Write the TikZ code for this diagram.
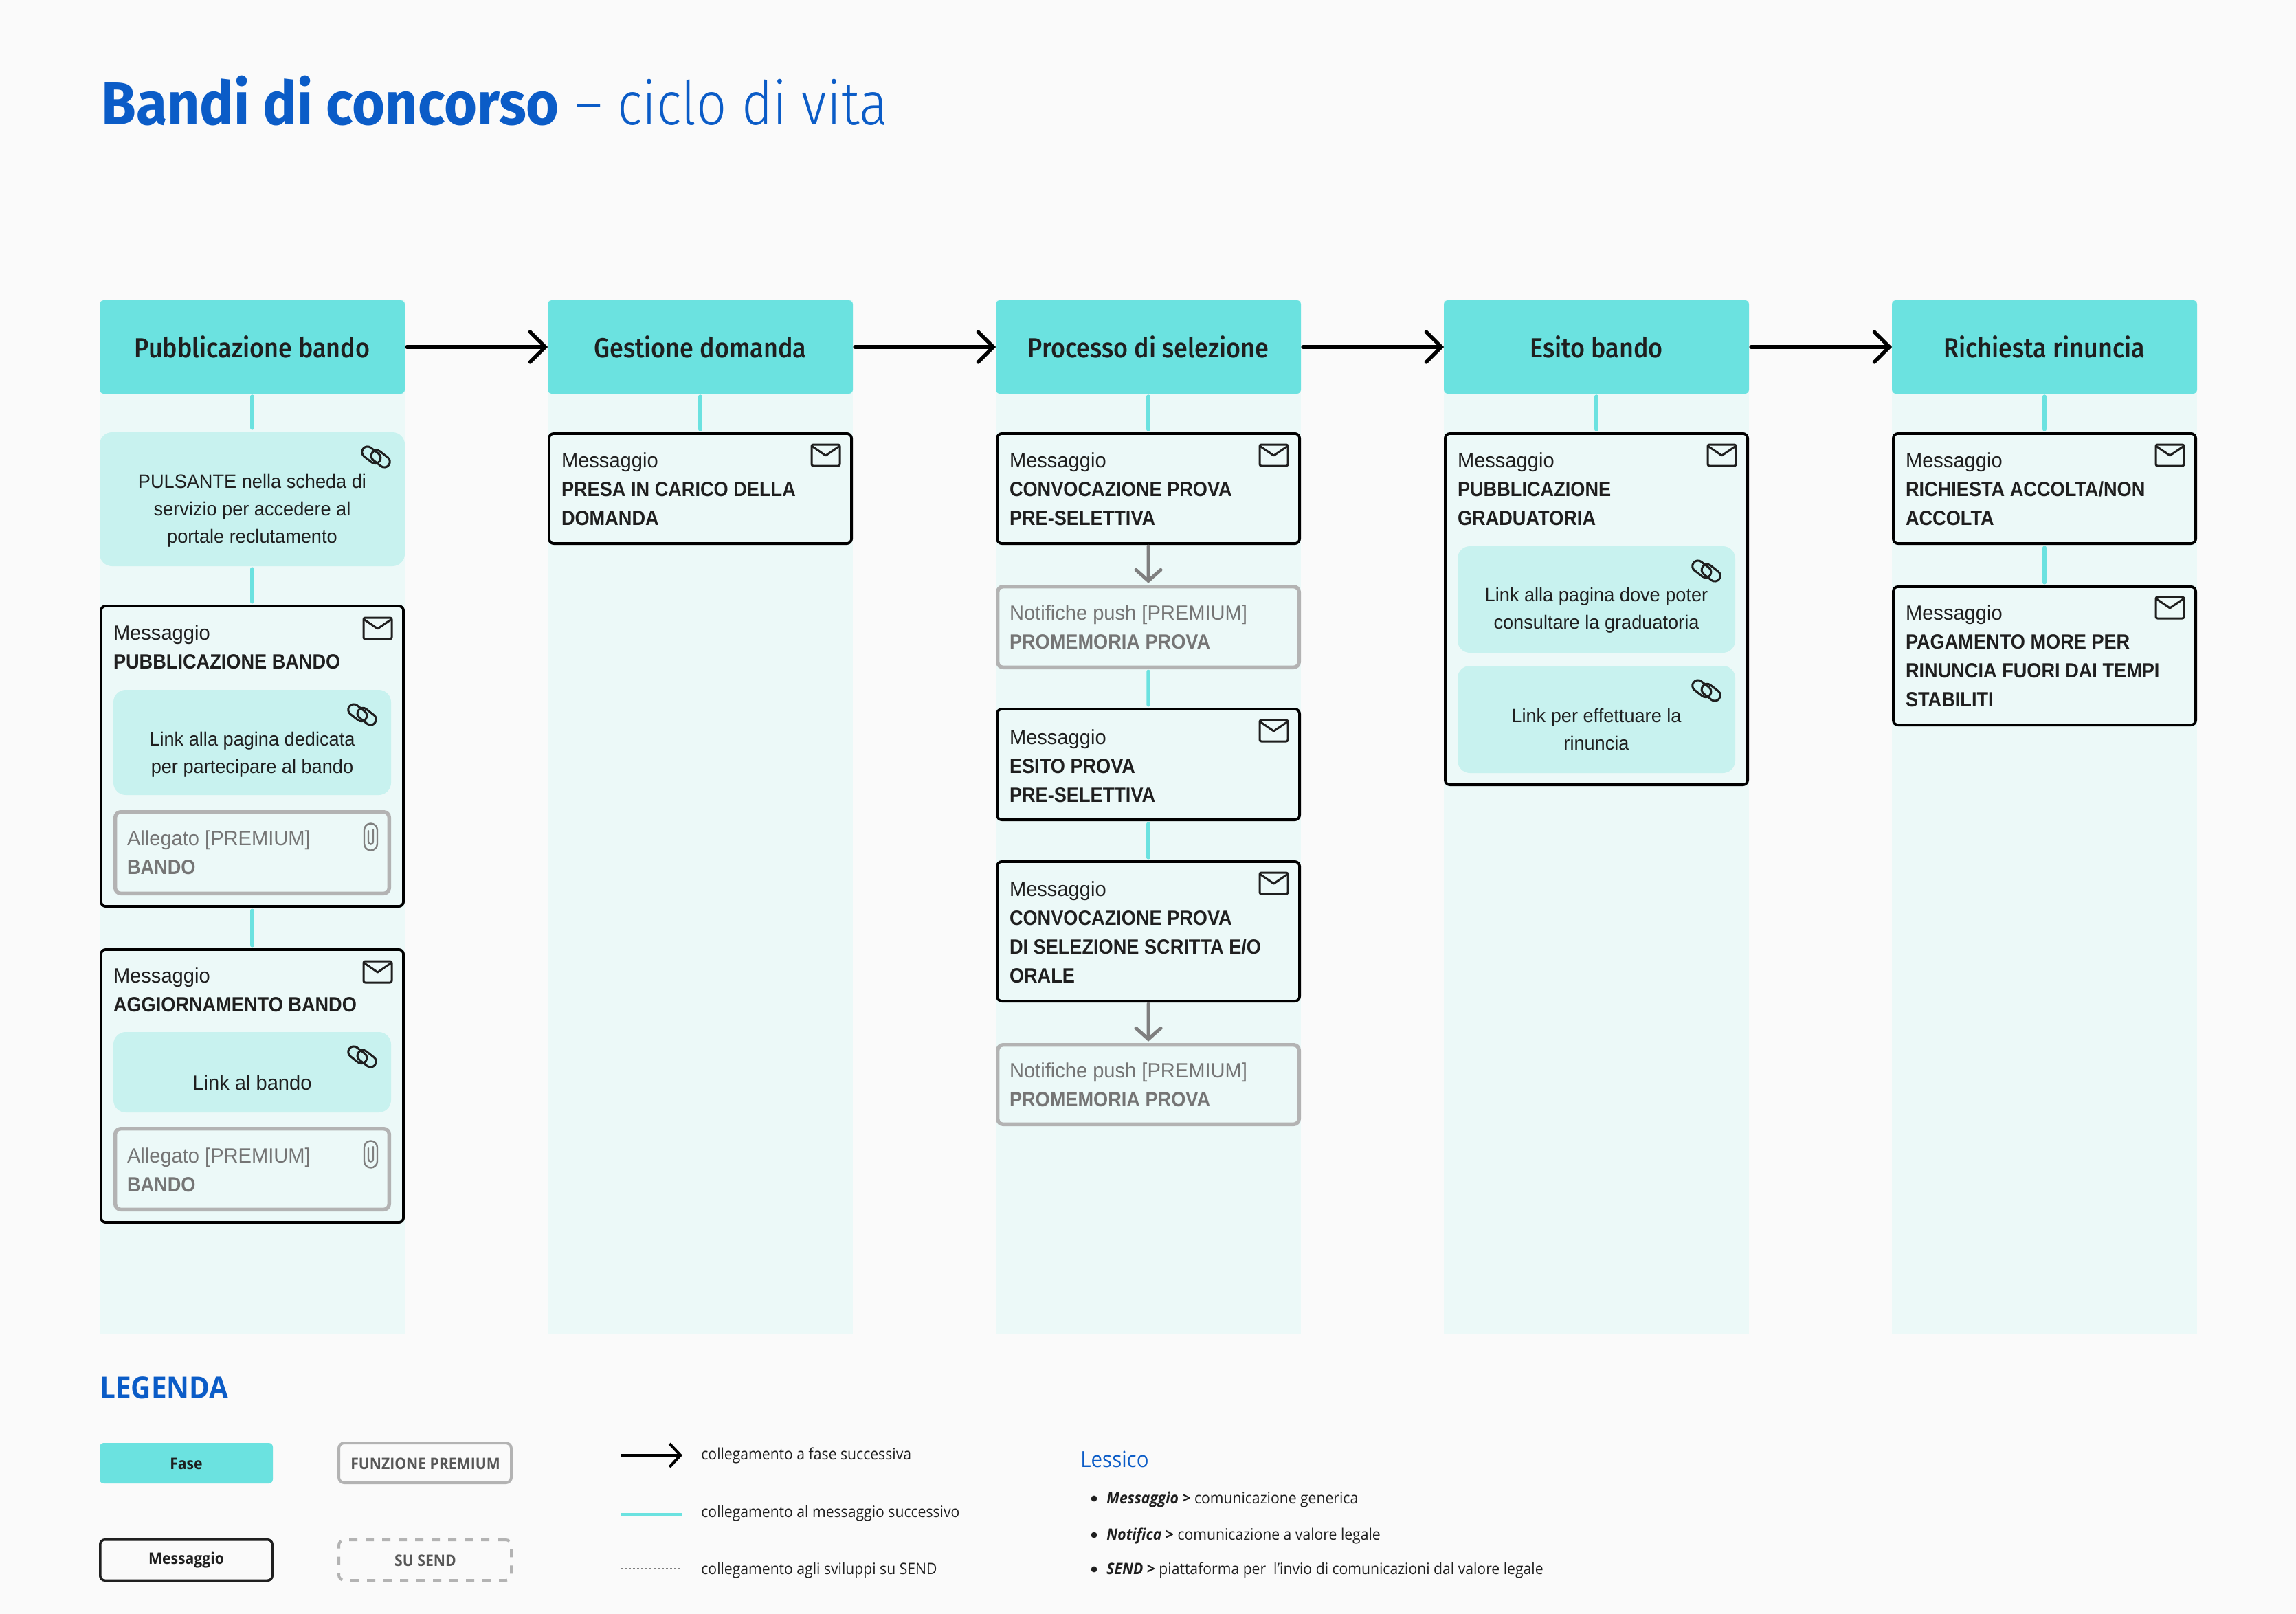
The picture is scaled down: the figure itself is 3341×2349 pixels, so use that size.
\documentclass[tikz,border=0pt]{standalone}
\usepackage{fontspec}
\usetikzlibrary{arrows.meta}
\setmainfont{Liberation Sans}[FakeStretch=0.97,BoldFeatures={FakeStretch=0.905}]
\newfontfamily\titlefont[FakeStretch=0.97,BoldFeatures={FakeStretch=0.935}]{Fira Sans}
\newfontfamily\titlelight[FakeStretch=0.88]{Fira Sans Light}
\newfontfamily\phasefont[FakeStretch=0.90]{Fira Sans Medium}
\newfontfamily\legfont[FakeStretch=0.92]{Open Sans}
\definecolor{pagebg}{HTML}{FAFAFA}
\definecolor{colbg}{HTML}{ECF9F8}
\definecolor{fase}{HTML}{6BE2E0}
\definecolor{inner}{HTML}{C8F2EF}
\definecolor{ink}{HTML}{1F1F1F}
\definecolor{greyline}{HTML}{B3B3B3}
\definecolor{greytxt}{HTML}{757575}
\definecolor{greyarrow}{HTML}{7F7F7F}
\definecolor{blu}{HTML}{0B5CC7}
\tikzset{
  x=0.5pt,y=-0.5pt,
  phase/.style={fill=fase,rounded corners=3pt,inner sep=0,outer sep=0},
  msgbox/.style={draw=black,line width=1.9pt,fill=colbg,rounded corners=3.5pt,inner sep=0,outer sep=0},
  prembox/.style={draw=greyline,line width=2.7pt,fill=colbg,rounded corners=4pt,inner sep=0,outer sep=0},
  linkbox/.style={fill=inner,rounded corners=9pt,inner sep=0,outer sep=0},
  column/.style={fill=colbg,inner sep=0,outer sep=0},
  phasetxt/.style={font=\phasefont\fontsize{20}{24}\selectfont,text=ink},
  msgtxt/.style={anchor=north west,inner sep=0,outer sep=0,yshift=10pt,align=left,text=ink,
    font=\fontsize{15}{21}\selectfont,execute at begin node={\rule{0pt}{10pt}}},
  premtxt/.style={msgtxt,text=greytxt},
  linktxt/.style={anchor=north,inner sep=0,outer sep=0,yshift=10pt,align=center,text=ink,
    font=\fontsize{14}{20}\selectfont,execute at begin node={\rule{0pt}{10pt}}},
  nextarrow/.style={draw=black,line width=2.6pt,line cap=round,-{Straight Barb[length=11pt,width=22pt,line cap=round]}},
  link/.style={draw=fase,line width=2.6pt,line cap=round,shorten <=3pt,shorten >=3pt},
  linkhead/.style={link,shorten <=2pt},
  pushline/.style={draw=greyarrow,line width=2.5pt,line cap=round,shorten <=2pt,shorten >=2.5pt,-{Straight Barb[length=8pt,width=18pt,line cap=round]}},
  icon/.style={draw=ink,line width=1.5pt,line join=round},
  legtxt/.style={anchor=base west,inner sep=0,font=\legfont\fontsize{11.5}{14}\selectfont,text=ink},
  legbold/.style={inner sep=0,font=\legfont\bfseries\fontsize{11.5}{14}\selectfont,text=ink},
}
% [inset]{style}{name}{x1}{y1}{x2}{y2}
\newcommand\bx[7][0]{\node[#2,anchor=north west,minimum width={(#6-#4-2*#1)*0.5pt},minimum height={(#7-#5-2*#1)*0.5pt}] (#3) at ({#4+#1},{#5+#1}) {};}
\newcommand\mailicon[2]{\begin{scope}[shift={(#1,#2)}]
  \draw[icon,rounded corners=1.2pt] (0,0) rectangle (41,31);
  \draw[icon] (0,2) -- (20.5,16) -- (41,2);
\end{scope}}
\newcommand\linkicon[2]{\begin{scope}[shift={(#1,#2)}]
  \begin{scope}[shift={(-6.7,-2.7)},rotate=-38]
    \draw[icon,rounded corners=3.9pt] (-15,-8) rectangle (15,8);
  \end{scope}
  \begin{scope}[shift={(6.7,2.7)},rotate=-38]
    \draw[icon,rounded corners=3.9pt] (-15,-8) rectangle (15,8);
  \end{scope}
\end{scope}}
\newcommand\clipicon[2]{\begin{scope}[shift={(#1,#2)}]
  \draw[draw=greyarrow,line width=1.2pt,rounded corners=4.7pt] (-9.5,-19.5) rectangle (9.5,19.5);
  \draw[draw=greyarrow,line width=1.2pt,line cap=round] (-3.5,-9) -- (-3.5,7) arc [start angle=180,end angle=0,radius=3.5] -- (3.5,-11);
\end{scope}}
\begin{document}
\begin{tikzpicture}
\path[use as bounding box,fill=pagebg] (0,0) rectangle (3341,2349);
% columns
\foreach \cx/\cn in {145/c1,797/c2,1449/c3,2101/c4,2753/c5}
  \node[column,anchor=north west,minimum width=222pt,minimum height={(1941-437)*0.5pt}] (\cn) at (\cx,437) {};
% title
\node[anchor=base west,inner sep=0,text=blu,font=\titlefont\fontsize{44}{50}\selectfont] (title) at (147,182) {\textbf{Bandi di concorso} {\titlelight – ciclo di vita}};
% phases
\foreach \cx/\cn/\ct in {145/h1/Pubblicazione bando,797/h2/Gestione domanda,1449/h3/Processo di selezione,2101/h4/Esito bando,2753/h5/Richiesta rinuncia}{
  \node[phase,phasetxt,anchor=north west,minimum width=222pt,minimum height=68pt] (\cn) at (\cx,437) {\ct};
}
\draw[nextarrow,shorten <=1.5pt] (h1) -- (h2);
\draw[nextarrow,shorten <=1.5pt] (h2) -- (h3);
\draw[nextarrow,shorten <=1.5pt] (h3) -- (h4);
\draw[nextarrow,shorten <=1.5pt] (h4) -- (h5);
% column 1
\bx{linkbox}{a1}{145}{629}{589}{824}
\node[linktxt] (a1t) at (367,710) {PULSANTE nella scheda di\\servizio per accedere al\\portale reclutamento};
\linkicon{547}{665}
\bx[1.9]{msgbox}{a2}{145}{880}{589}{1321}
\node[msgtxt] (a2t) at (165,930) {Messaggio\\\textbf{PUBBLICAZIONE BANDO}};
\mailicon{529}{899}
\bx{linkbox}{a3}{165}{1004}{569}{1157}
\node[linktxt] (a3t) at (367,1085) {Link alla pagina dedicata\\per partecipare al bando};
\linkicon{527}{1040}
\bx[2.7]{prembox}{a4}{165}{1179}{569}{1303}
\node[premtxt] (a4t) at (185,1229) {Allegato [PREMIUM]\\\textbf{BANDO}};
\clipicon{539.5}{1218}
\bx[1.9]{msgbox}{a5}{145}{1380}{589}{1781}
\node[msgtxt] (a5t) at (165,1429) {Messaggio\\\textbf{AGGIORNAMENTO BANDO}};
\mailicon{529}{1399}
\bx{linkbox}{a6}{165}{1502}{569}{1619}
\node[linktxt,font=\fontsize{15}{20}\selectfont] (a6t) at (367,1585) {Link al bando};
\linkicon{527}{1538}
\bx[2.7]{prembox}{a7}{165}{1640}{569}{1763}
\node[premtxt] (a7t) at (185,1691) {Allegato [PREMIUM]\\\textbf{BANDO}};
\clipicon{539.5}{1680}
\draw[linkhead] (h1) -- (a1);
\draw[linkhead] (a1) -- (a2);
\draw[link] (a2) -- (a5);
% column 2
\bx[1.9]{msgbox}{b1}{797}{629}{1241}{793}
\node[msgtxt] (b1t) at (817,679) {Messaggio\\\textbf{PRESA IN CARICO DELLA}\\\textbf{DOMANDA}};
\mailicon{1181}{647}
\draw[linkhead] (h2) -- (b1);
% column 3
\bx[1.9]{msgbox}{d1}{1449}{629}{1893}{793}
\node[msgtxt] (d1t) at (1469,679) {Messaggio\\\textbf{CONVOCAZIONE PROVA}\\\textbf{PRE-SELETTIVA}};
\mailicon{1833}{647}
\bx[2.7]{prembox}{d2}{1449}{851}{1893}{974}
\node[premtxt] (d2t) at (1469,901) {Notifiche push [PREMIUM]\\\textbf{PROMEMORIA PROVA}};
\bx[1.9]{msgbox}{d3}{1449}{1030}{1893}{1195}
\node[msgtxt] (d3t) at (1469,1082) {Messaggio\\\textbf{ESITO PROVA}\\\textbf{PRE-SELETTIVA}};
\mailicon{1833}{1048}
\bx[1.9]{msgbox}{d4}{1449}{1252}{1893}{1459}
\node[msgtxt] (d4t) at (1469,1303) {Messaggio\\\textbf{CONVOCAZIONE PROVA}\\\textbf{DI SELEZIONE SCRITTA E/O}\\\textbf{ORALE}};
\mailicon{1833}{1270}
\bx[2.7]{prembox}{d5}{1449}{1518}{1893}{1639}
\node[premtxt] (d5t) at (1469,1567) {Notifiche push [PREMIUM]\\\textbf{PROMEMORIA PROVA}};
\draw[linkhead] (h3) -- (d1);
\draw[pushline] (d1) -- (d2);
\draw[link] (d2) -- (d3);
\draw[link] (d3) -- (d4);
\draw[pushline] (d4) -- (d5);
% column 4
\bx[1.9]{msgbox}{e1}{2101}{629}{2545}{1144}
\node[msgtxt] (e1t) at (2121,679) {Messaggio\\\textbf{PUBBLICAZIONE}\\\textbf{GRADUATORIA}};
\mailicon{2485}{647}
\bx{linkbox}{e2}{2121}{795}{2525}{950}
\node[linktxt] (e2t) at (2323,875) {Link alla pagina dove poter\\consultare la graduatoria};
\linkicon{2483}{831}
\bx{linkbox}{e3}{2121}{969}{2525}{1125}
\node[linktxt] (e3t) at (2323,1051) {Link per effettuare la\\rinuncia};
\linkicon{2483}{1005}
\draw[linkhead] (h4) -- (e1);
% column 5
\bx[1.9]{msgbox}{f1}{2753}{629}{3197}{793}
\node[msgtxt] (f1t) at (2773,679) {Messaggio\\\textbf{RICHIESTA ACCOLTA/NON}\\\textbf{ACCOLTA}};
\mailicon{3137}{647}
\bx[1.9]{msgbox}{f2}{2753}{852}{3197}{1057}
\node[msgtxt] (f2t) at (2773,901) {Messaggio\\\textbf{PAGAMENTO MORE PER}\\\textbf{RINUNCIA FUORI DAI TEMPI}\\\textbf{STABILITI}};
\mailicon{3137}{869}
\draw[linkhead] (h5) -- (f1);
\draw[link] (f1) -- (f2);
% legend
\node[anchor=base west,inner sep=0,text=blu,font=\legfont\bfseries\fontsize{22}{26}\selectfont] (leg) at (145,2035) {LEGENDA};
\bx{phase}{l1}{145}{2100}{397}{2159}
\node[legbold] (l1t) at (271,2130) {Fase};
\bx[1.75]{msgbox,line width=1.75pt,draw=ink,fill=pagebg}{l2}{144}{2239}{398}{2302}
\node[legbold] (l2t) at (271,2271) {Messaggio};
\bx[2]{prembox,line width=2pt,fill=pagebg}{l3}{491}{2098}{746}{2160}
\node[legbold,text=ink!75] (l3t) at (619,2130) {FUNZIONE PREMIUM};
\bx[2]{prembox,line width=2pt,fill=pagebg,dash pattern=on 6pt off 6pt}{l4}{491}{2239}{746}{2302}
\node[legbold,text=ink!75] (l4t) at (619,2271) {SU SEND};
\coordinate (n1) at (903,2118); \coordinate (n2) at (993,2118);
\draw[draw=black,line width=2pt,-{Straight Barb[length=8pt,width=17pt]}] (n1) -- (n2);
\coordinate (n3) at (903,2204); \coordinate (n4) at (992,2204);
\draw[draw=fase,line width=2pt] (n3) -- (n4);
\coordinate (n5) at (903,2283); \coordinate (n6) at (990,2283);
\draw[draw=greyarrow,line width=1pt,dash pattern=on 1.5pt off 1.5pt] (n5) -- (n6);
\node[legtxt] (t1) at (1020,2124) {collegamento a fase successiva};
\node[legtxt] (t2) at (1020,2208) {collegamento al messaggio successivo};
\node[legtxt] (t3) at (1020,2291) {collegamento agli sviluppi su SEND};
\node[anchor=base west,inner sep=0,text=blu,font=\legfont\fontsize{16}{18}\selectfont] (lex) at (1572,2135) {Lessico};
\foreach \yy/\nn/\ttx in {2188/s1/{\textit{\textbf{Messaggio}} \textbf{>} comunicazione generica},2241/s2/{\textit{\textbf{Notifica}} \textbf{>} comunicazione a valore legale},2291/s3/{\textit{\textbf{SEND}} \textbf{>} piattaforma per\ \ l’invio di comunicazioni dal valore legale}}{
  \node[legtxt] (\nn) at (1610,\yy) {\ttx};
  \fill[ink] (1592,\yy-7) circle (2.2pt);
}
\end{tikzpicture}
\end{document}
